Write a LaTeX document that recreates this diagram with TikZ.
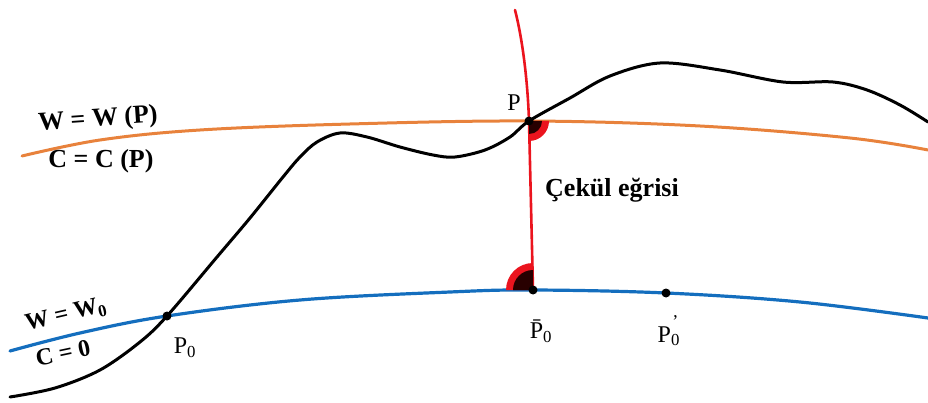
\documentclass[tikz,border=0pt]{standalone}
\usepackage{fontspec}
\setmainfont{Liberation Serif}
\begin{document}
\begin{tikzpicture}[x=1pt,y=-1pt,
  lbl/.style={font=\fontsize{26}{28}\selectfont\bfseries, inner sep=0pt},
  slbl/.style={font=\fontsize{24}{26}\selectfont\bfseries, inner sep=0pt},
  plbl/.style={font=\fontsize{24}{26}\selectfont, inner sep=0pt},
  dot/.style={circle, fill=black, inner sep=0pt, minimum size=9pt},
  orangec/.style={draw=orangeline, line width=3pt},
  bluec/.style={draw=blueline, line width=3.2pt},
  blackc/.style={draw=black, line width=3pt},
  redc/.style={draw=redline, line width=2.6pt}]
\definecolor{orangeline}{RGB}{232,130,60}
\definecolor{blueline}{RGB}{20,110,190}
\definecolor{redline}{RGB}{235,20,30}
\definecolor{darkmark}{RGB}{40,0,0}
\useasboundingbox (0,0) rectangle (928,403);
% coordinates
\coordinate (P) at (529,121);
\coordinate (P0) at (167,316);
\coordinate (Pb) at (533,290);
\coordinate (Pp) at (666,293);
\coordinate (Rtop) at (515,10);
% equipotential surfaces
\draw[orangec, line cap=round] plot[smooth, tension=0.6] coordinates {(22,156) (100,140) (200,130) (350,124) (529,121) (700,126) (850,138) (928,150)};
\draw[bluec, line cap=round] plot[smooth, tension=0.6] coordinates {(10,351) (80,333) (167,316) (300,300) (450,292) (533,290) (666,293) (800,302) (928,318)};
% terrain
\draw[blackc, line cap=round] plot[smooth, tension=0.55] coordinates {(10,397) (55,388) (100,370) (140,342) (167,316) (217,257) (250,218) (283,177) (300,157) (317,142) (340,133) (367,137) (400,147) (433,155) (455,157) (485,150) (510,137) (529,121) (570,98) (610,76) (660,63) (720,70) (783,82) (833,82) (867,90) (900,105) (928,122)};
% plumb line
\draw[redc, line cap=round] (Rtop) .. controls (524,45) and (528,90) .. (P) -- (Pb);
% right angle marks
\fill[redline] (P) -- ++(20,0) arc[start angle=0, end angle=90, radius=20] -- cycle;
\fill[darkmark] (P) -- ++(13,0) arc[start angle=0, end angle=90, radius=13] -- cycle;
\fill[redline] (Pb) -- ++(-27,0) arc[start angle=180, end angle=270, radius=27] -- cycle;
\fill[darkmark] (Pb) -- ++(-20,0) arc[start angle=180, end angle=270, radius=20] -- cycle;
% points
\node[dot] (nP) at (P) {};
\node[dot] (nP0) at (P0) {};
\node[dot] (nPb) at (Pb) {};
\node[dot] (nPp) at (Pp) {};
% labels
\node[plbl] (lP) at (514,103) {P};
\node[plbl] (lP0) at (185,348) {P\textsubscript{0}};
\node[plbl] (lPb) at (541,331) {\=P\textsubscript{0}};
\node[plbl] (lPp) at (668,331) {P\textsubscript{0}\hspace{-0.32em}\raisebox{0.6em}{\fontsize{18}{18}\selectfont '}};
\node[lbl] (lcek) at (612,190) {Çekül eğrisi};
\node[lbl, rotate=4] (lW) at (98,120) {W = W (P)};
\node[lbl] (lC) at (101,161) {C = C (P)};
\node[slbl, rotate=13] (lW0) at (66,315) {W = W\textsubscript{0}};
\node[slbl, rotate=12] (lC0) at (63,353) {C = 0};
\end{tikzpicture}
\end{document}
